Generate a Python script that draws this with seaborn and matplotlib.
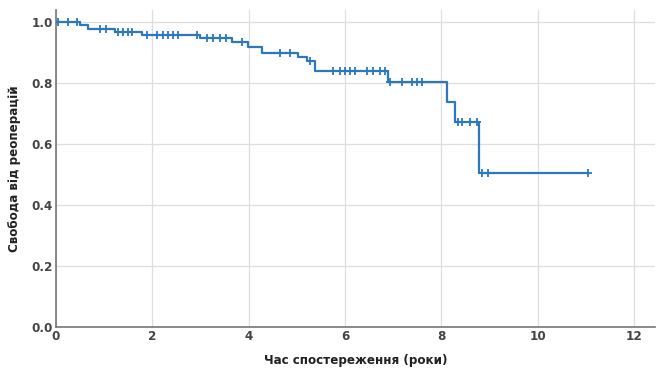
import numpy as np
import pandas as pd
import matplotlib
matplotlib.use("Agg")
import matplotlib.pyplot as plt
import seaborn as sns

# Kaplan-Meier step curve (time in years, survival)
step_times = [0, 0.50, 0.66, 1.22, 1.78, 3.00, 3.65, 3.98, 4.27, 5.02, 5.20, 5.37,
              6.90, 8.12, 8.28, 8.78, 11.04]
step_surv = [1.0, 0.990, 0.977, 0.967, 0.960, 0.950, 0.937, 0.920, 0.900, 0.885, 0.872,
             0.840, 0.803, 0.739, 0.673, 0.506, 0.506]

# censored observations
censor_times = [0.05, 0.25, 0.44, 0.91, 1.05, 1.29, 1.40, 1.50, 1.57, 1.89, 2.09, 2.22,
                2.33, 2.43, 2.53, 2.92, 3.13, 3.26, 3.40, 3.54, 3.86, 4.65, 4.85, 5.27,
                5.75, 5.90, 6.00, 6.10, 6.20, 6.45, 6.58, 6.72, 6.83, 6.93, 7.18, 7.39,
                7.49, 7.59, 8.35, 8.42, 8.59, 8.73, 8.84, 8.96, 11.04]

x_ticks = [0, 2, 4, 6, 8, 10, 12]
y_ticks = [0.0, 0.2, 0.4, 0.6, 0.8, 1.0]

curve = pd.DataFrame({"t": step_times, "s": step_surv})
idx = np.searchsorted(step_times, censor_times, side="right") - 1
cens = pd.DataFrame({"t": censor_times, "s": np.array(step_surv)[idx]})

sns.set_style("white")
plt.rcParams["font.family"] = ["DejaVu Sans"]
plt.rcParams["font.stretch"] = "condensed"
color = "#2b78c0"

fig = plt.figure(figsize=(6.57, 3.75), dpi=100)
ax = fig.add_axes([0.085, 0.128, 0.912, 0.845])

sns.lineplot(data=curve, x="t", y="s", drawstyle="steps-post", color=color,
             linewidth=1.6, ax=ax)
sns.scatterplot(data=cens, x="t", y="s", marker="+", s=30, color=color,
                linewidth=1.3, ax=ax, zorder=3)

ax.set_xlim(0, 12.43)
ax.set_ylim(0, 1.04)
ax.set_xticks(x_ticks)
ax.set_yticks(y_ticks)
ax.set_yticklabels([f"{v:.1f}" for v in y_ticks])
ax.grid(True, color="#dedede", linewidth=0.9)
ax.set_axisbelow(True)

for side in ["top", "right"]:
    ax.spines[side].set_visible(False)
for side in ["left", "bottom"]:
    ax.spines[side].set_color("#777777")
    ax.spines[side].set_linewidth(1.2)

ax.tick_params(axis="both", labelsize=9.5, colors="#444444", length=0, pad=2)
for lbl in ax.get_xticklabels() + ax.get_yticklabels():
    lbl.set_fontweight("bold")

ax.set_xlabel("Час спостереження (роки)", fontsize=9.5, fontweight="bold",
              color="#222222", labelpad=8)
ax.set_ylabel("Свобода від реоперацій", fontsize=9.5, fontweight="bold",
              color="#222222", labelpad=8)

fig.savefig("out.png", dpi=100)
